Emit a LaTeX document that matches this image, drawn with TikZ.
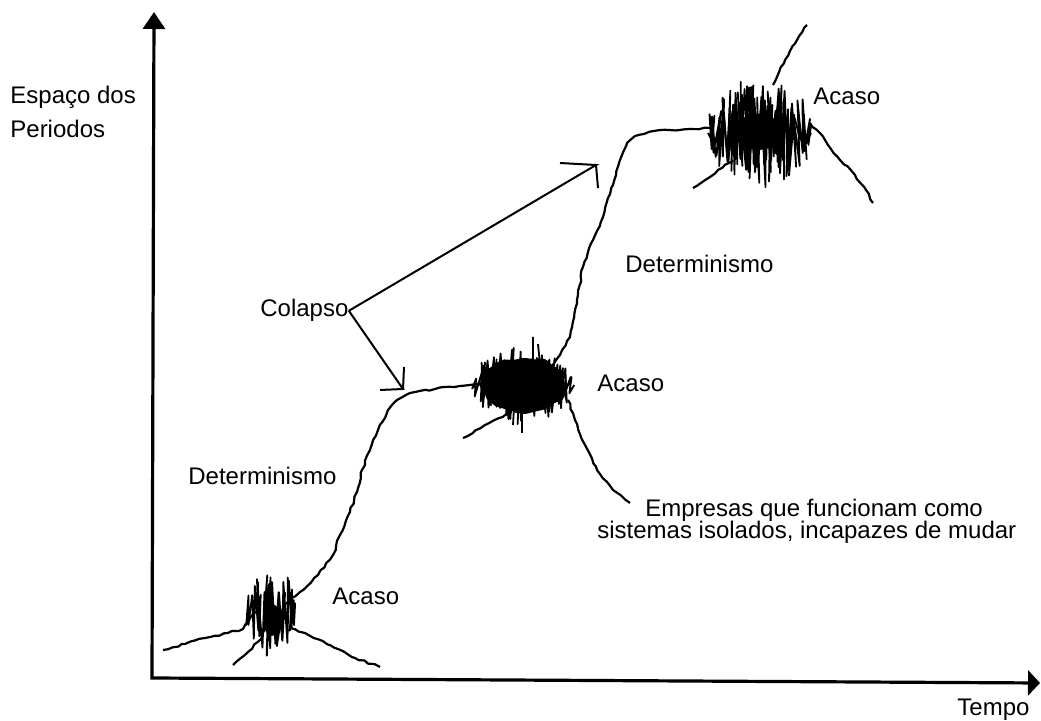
\documentclass[tikz,border=0pt]{standalone}
\usepackage{fontspec}
\setmainfont{Liberation Sans}
\usepackage{tikz}
\usetikzlibrary{arrows.meta, calc, decorations.pathmorphing}

% 随机涂抹（偶然区域）
\newcommand{\noiseblob}[5]{%
  \draw[noise] ({#1-#3},#2) \foreach \k in {1,...,#5}{
    -- ({#1-#3+2*#3*\k/#5+4*rand}, {#2+(2*mod(\k,2)-1)*#4*(0.4+0.6*rnd)*sqrt(max(0,1-(2*\k/#5-1)^2))})
  };
}

\begin{document}
\begin{tikzpicture}[x=0.5pt, y=-0.5pt,
    lbl/.style={font=\fontsize{12}{14}\selectfont, inner sep=0pt},
    axis/.style={line width=1.6pt},
    trace/.style={line width=1.1pt, line join=round, decorate,
      decoration={random steps, segment length=2.5pt, amplitude=0.5pt}},
    noise/.style={line width=0.9pt, line join=round},
    pointer/.style={line width=1pt}]
    \useasboundingbox (0,0) rectangle (1041,721);
    \pgfmathsetseed{42}

    % 坐标轴
    \coordinate (O) at (152,678);
    \coordinate (ytop) at (154,12);
    \coordinate (xend) at (1040,683);
    \draw[axis, {Triangle[length=8.5pt,width=11pt]}-{Triangle[length=6pt,width=12.5pt]}] (ytop) -- (O) -- (xend);
    \node[lbl, anchor=north west, align=left, font=\fontsize{12}{17}\selectfont] (eixoy) at (10,86) {Espaço dos\\Periodos};
    \node[lbl, anchor=base west] (tempo) at (957,716) {Tempo};

    % 左下：偶然
    \draw[trace] (163,650) -- (185,644) -- (205,638) -- (228,633) -- (243,629) -- (250,618) -- (256,612);
    \draw[trace] (233,665) -- (248,652) -- (262,638);
    \draw[trace] (290,628) -- (305,633) -- (330,645) -- (355,658) -- (380,667);
    \fill (272,620) ellipse [x radius=9, y radius=16];
    \noiseblob{272}{613}{24}{44}{46}
    \node[lbl, anchor=base west] (acasoA) at (332,605) {Acaso};

    % 决定论（下）
    \draw[trace] (283,605) -- (300,592) -- (318,575) -- (333,555) -- (340,535) -- (350,512) -- (357,492)
      -- (362,470) -- (370,450) -- (378,430) -- (388,410) -- (397,400) -- (410,393) -- (435,389) -- (460,386) -- (482,383);
    \node[lbl, anchor=base west] (detL) at (188,485) {Determinismo};

    % 中间：偶然
    \fill plot[smooth cycle, domain=0:345, samples=24] ({524+45*cos(\x)*(0.9+0.1*rnd)}, {385+30*sin(\x)*(0.85+0.15*rnd)});
    \noiseblob{523}{385}{48}{40}{90}
    \draw[noise] (533,362) -- (533,337) (540,364) -- (538,344) (522,410) -- (522,433) (514,408) -- (513,425);
    \draw[trace] (463,438) -- (485,425) -- (512,412);
    \draw[trace] (568,400) -- (575,420) -- (585,445) -- (597,470) -- (613,490) -- (630,503);
    \node[lbl, anchor=base west] (acasoB) at (597,392) {Acaso};
    \node[lbl, anchor=base west] (emp1) at (645,517) {Empresas que funcionam como};
    \node[lbl, anchor=base west] (emp2) at (597,539) {sistemas isolados, incapazes de mudar};

    % 决定论（上）
    \draw[trace] (548,372) -- (560,355) -- (570,337) -- (577,300) -- (583,267) -- (593,240) -- (603,217)
      -- (613,185) -- (622,155) -- (627,143) -- (635,136) -- (660,130) -- (690,129) -- (712,128);
    \node[lbl, anchor=base west] (detU) at (625,273) {Determinismo};

    % 右上：偶然
    \fill (758,132) ellipse [x radius=24, y radius=18];
    \noiseblob{760}{133}{52}{56}{80}
    \noiseblob{758}{130}{40}{44}{56}
    \draw[trace] (773,85) -- (785,60) -- (797,40) -- (807,25);
    \draw[trace] (810,123) -- (825,140) -- (840,160) -- (855,175) -- (866,190) -- (873,203);
    \draw[trace] (693,188) -- (710,177) -- (733,160);
    \node[lbl, anchor=base west] (acasoC) at (813,105) {Acaso};

    % 崩溃
    \node[lbl, anchor=base west] (colapso) at (260,317) {Colapso};
    \coordinate (tipU) at (596,165);
    \coordinate (tipD) at (403,389);
    \draw[pointer] (colapso.east) -- (tipU) -- ++(-36,-2);
    \draw[pointer] (tipU) -- ++(2,23);
    \draw[pointer] (colapso.east) -- (tipD) -- ++(-23,1);
    \draw[pointer] (tipD) -- ++(1,-22);
\end{tikzpicture}
\end{document}
